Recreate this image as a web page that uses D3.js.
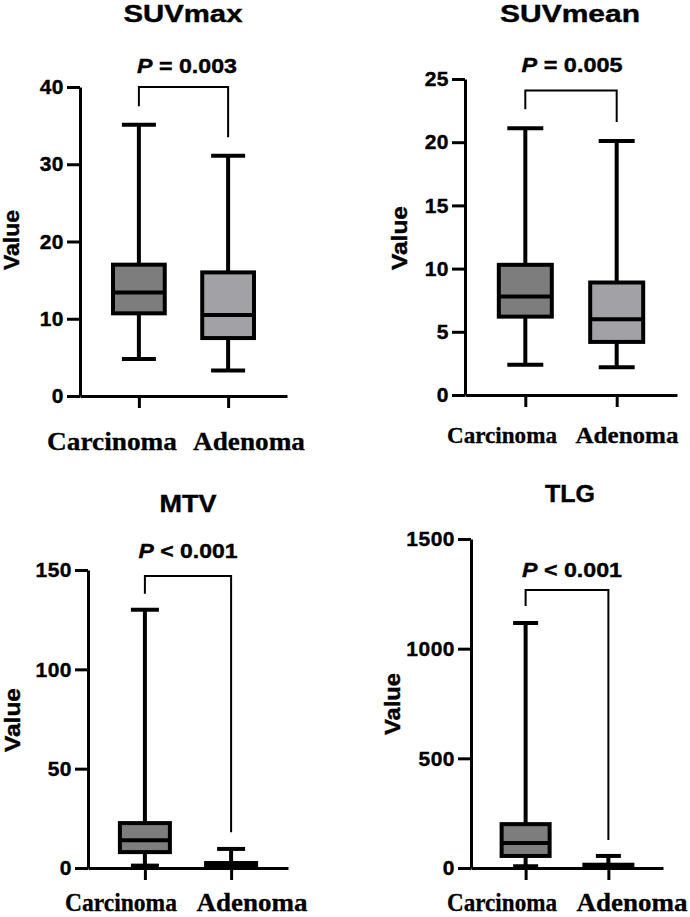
<!DOCTYPE html>
<html>
<head>
<meta charset="utf-8">
<script src="https://cdn.jsdelivr.net/npm/d3@7"></script>
<style>
  body { margin: 0; background: #fff; }
  text { font-family: "Liberation Sans", Arial, sans-serif; font-weight: bold; fill: #000; stroke: #000; stroke-width: 0.4px; }
  .cat { font-family: "Liberation Serif", "Times New Roman", serif; stroke-width: 0.3px; }
</style>
</head>
<body>
<svg id="chart" width="690" height="917"></svg>
<script>
const categories = ["Carcinoma", "Adenoma"];
const metrics = ["SUVmax", "SUVmean", "MTV", "TLG"];
const pSigns = ["=", "=", "<", "<"];
const pValues = ["0.003", "0.005", "0.001", "0.001"];
const yMaxima = [40, 25, 150, 1500];
const yTickValues = [
    [0, 10, 20, 30, 40],
    [0, 5, 10, 15, 20, 25],
    [0, 50, 100, 150],
    [0, 500, 1000, 1500]
];
// [min, q1, median, q3, max]
const carcinomaStats = [
    [4.8, 10.7, 13.4, 17.0, 35.1],
    [2.4, 6.2, 7.8, 10.3, 21.1],
    [1.2, 8, 14, 22.6, 130],
    [8, 55, 114, 200, 1117]
];
const adenomaStats = [
    [3.3, 7.5, 10.5, 16.0, 31.1],
    [2.2, 4.2, 6.0, 8.9, 20.1],
    [0.1, 0.3, 1, 2.5, 9.6],
    [1, 3, 7, 15, 55]
];
// significance bracket: [top, left leg end, right leg end]
const bracketLevels = [
    [40, 37.5, 33.5],
    [24.1, 22.6, 21.6],
    [147, 138, 18],
    [1268, 1195, 128]
];

const fills = ["#7d7d7d", "#a2a2a6"];

// layout of each panel (pixels)
const panels = [
    {x0: 80, x1: 287, yTop: 87, yBase: 396, capW: 34,
     title: [183, 22, 119], p: [187, 73, 100], value: [19, 240, 60],
     cats: [[112, 130], [249, 112]], catY: 450, catSize: 26},
    {x0: 465, x1: 677, yTop: 79, yBase: 395, capW: 36,
     title: [570, 22, 140], p: [572, 72, 101], value: [407, 238, 64],
     cats: [[502, 110], [627, 103]], catY: 443, catSize: 23},
    {x0: 88, x1: 288, yTop: 570, yBase: 868, capW: 28,
     title: [188, 512, 57], p: [188, 558, 99], value: [20, 720, 64],
     cats: [[121, 112], [252, 111]], catY: 911, catSize: 25},
    {x0: 471, x1: 663, yTop: 539, yBase: 868, capW: 25,
     title: [570, 502, 50], p: [572, 577, 100], value: [400, 704, 62],
     cats: [[502, 110], [632, 111]], catY: 911, catSize: 25}
];

const svg = d3.select("#chart");

// stretch a text horizontally to a target width
function fitText(sel, x, y, w, rot) {
    const len = sel.node().getComputedTextLength();
    const r = rot ? ` rotate(${rot})` : "";
    sel.attr("transform", `translate(${x},${y})${r} scale(${w / len},1)`);
}

metrics.forEach((metric, i) => {
    const L = panels[i];
    const g = svg.append("g");

    const y = d3.scaleLinear().domain([0, yMaxima[i]]).range([L.yBase, L.yTop]);
    const x = d3.scalePoint().domain(categories).range([L.x0, L.x1]).padding(0.66);
    const step = x.step();
    const boxW = step * 0.58;

    // y axis
    const ya = g.append("g")
        .attr("transform", `translate(${L.x0},0)`)
        .call(d3.axisLeft(y).tickValues(yTickValues[i]).tickFormat(d3.format("d"))
            .tickSize(13).tickSizeOuter(0).tickPadding(3));
    ya.selectAll("path, line").attr("stroke", "#000").attr("stroke-width", 3);
    ya.selectAll("text").style("font-size", "21px").attr("letter-spacing", "0.5px")
        .attr("font-family", null).attr("font-size", null);

    // x axis
    const xa = g.append("g")
        .attr("transform", `translate(0,${L.yBase})`)
        .call(d3.axisBottom(x).tickSize(12).tickSizeOuter(0).tickFormat(""));
    xa.selectAll("path, line").attr("stroke", "#000").attr("stroke-width", 3);

    // boxes
    const stats = [carcinomaStats[i], adenomaStats[i]];
    stats.forEach((s, k) => {
        const cx = x(categories[k]);
        const [mn, q1, md, q3, mx] = s;
        g.append("line")
            .attr("x1", cx).attr("x2", cx).attr("y1", y(mn)).attr("y2", y(mx))
            .attr("stroke", "#000").attr("stroke-width", 4);
        [mn, mx].forEach(v => {
            g.append("line")
                .attr("x1", cx - L.capW / 2).attr("x2", cx + L.capW / 2)
                .attr("y1", y(v)).attr("y2", y(v))
                .attr("stroke", "#000").attr("stroke-width", 4);
        });
        g.append("rect")
            .attr("x", cx - boxW / 2).attr("width", boxW)
            .attr("y", y(q3)).attr("height", y(q1) - y(q3))
            .attr("fill", fills[k]).attr("stroke", "#000").attr("stroke-width", 4);
        g.append("line")
            .attr("x1", cx - boxW / 2).attr("x2", cx + boxW / 2)
            .attr("y1", y(md)).attr("y2", y(md))
            .attr("stroke", "#000").attr("stroke-width", 4);
    });

    // significance bracket
    const b = bracketLevels[i];
    const xl = x(categories[0]), xr = x(categories[1]);
    g.append("path")
        .attr("d", `M${xl},${y(b[1])}V${y(b[0])}H${xr}V${y(b[2])}`)
        .attr("fill", "none").attr("stroke", "#000").attr("stroke-width", 2);

    // p value
    const pt = g.append("text").attr("text-anchor", "middle").style("font-size", "21px");
    pt.append("tspan").attr("font-style", "italic").text("P");
    pt.append("tspan").text(` ${pSigns[i]} ${pValues[i]}`);
    fitText(pt, L.p[0], L.p[1], L.p[2]);

    // title
    const tt = g.append("text").attr("text-anchor", "middle").style("font-size", "24px").text(metric);
    fitText(tt, L.title[0], L.title[1], L.title[2]);

    // y label
    const vt = g.append("text").attr("text-anchor", "middle").style("font-size", "22px").text("Value");
    fitText(vt, L.value[0], L.value[1], L.value[2], -90);

    // category labels
    categories.forEach((c, k) => {
        const ct = g.append("text").attr("class", "cat").attr("text-anchor", "middle")
            .style("font-size", L.catSize + "px").text(c);
        fitText(ct, L.cats[k][0], L.catY, L.cats[k][1]);
    });
});
</script>
</body>
</html>
